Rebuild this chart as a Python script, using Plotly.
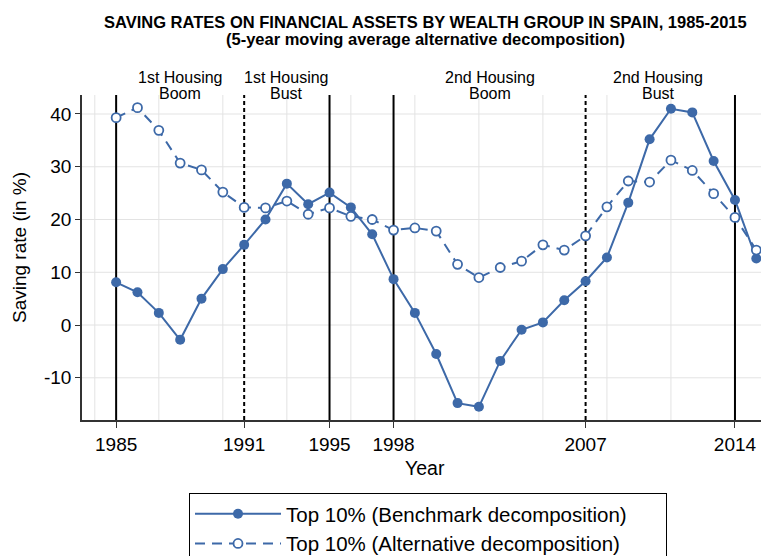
import plotly.graph_objects as go

years = list(range(1985, 2016))
benchmark = [8.1, 6.2, 2.3, -2.8, 5.0, 10.6, 15.2, 20.0, 26.8, 22.9, 25.1, 22.3, 17.2,
             8.7, 2.3, -5.5, -14.8, -15.5, -6.8, -0.9, 0.5, 4.7, 8.3, 12.8, 23.2,
             35.2, 41.0, 40.3, 31.1, 23.7, 12.6]
alternative = [39.3, 41.2, 36.9, 30.7, 29.4, 25.2, 22.3, 22.2, 23.5, 21.0, 22.2, 20.6, 20.0,
               18.0, 18.4, 17.8, 11.5, 9.0, 10.9, 12.1, 15.2, 14.2, 16.9, 22.4, 27.3,
               27.1, 31.25, 29.3, 24.9, 20.4, 14.2]
x_ticks = [1985, 1991, 1995, 1998, 2007, 2014]
y_ticks = [-10, 0, 10, 20, 30, 40]
y_ticktext = ["-10", "0", "10", "20", "30", "40"]
solid_lines = [1985, 1995, 1998, 2014]
dashed_lines = [1991, 2007]
periods = [(1988.0, "1st Housing", "Boom"), (1993.0, "1st Housing", "Bust"),
           (2002.5, "2nd Housing", "Boom"), (2010.4, "2nd Housing", "Bust")]
names = ["Top 10% (Benchmark decomposition)", "Top 10% (Alternative decomposition)"]

BLUE = "#3d69a8"
GRID = "#e3e3e3"
FONT = "Liberation Sans, Arial, Helvetica, sans-serif"
X_RANGE = [1983.4, 2015.22]
Y_RANGE = [-18.0, 43.6]
PAD = "\u00a0" * 6  # trailing space inside the legend box

fig = go.Figure()
fig.add_trace(go.Scatter(
    x=years, y=benchmark, mode="lines+markers", name=names[0] + PAD, legendgroup="a",
    line=dict(color=BLUE, width=2),
    marker=dict(color=BLUE, size=10, line=dict(width=0)),
))
fig.add_trace(go.Scatter(
    x=years, y=alternative, mode="lines+markers", name=names[1] + PAD, legendgroup="b",
    line=dict(color=BLUE, width=2, dash="10px,7px"),
    marker=dict(color="white", size=9, line=dict(color=BLUE, width=1.8)),
))

# grid lines (drawn as shapes so the black period lines sit on top of them)
for gx in range(1984, 2016, 3):
    fig.add_shape(type="line", xref="x", yref="paper", x0=gx, x1=gx, y0=0, y1=1,
                  line=dict(color=GRID, width=1), layer="below")
for gy in y_ticks:
    fig.add_shape(type="line", xref="paper", yref="y", x0=0, x1=1, y0=gy, y1=gy,
                  line=dict(color=GRID, width=1), layer="below")
for yr in solid_lines:
    fig.add_shape(type="line", xref="x", yref="paper", x0=yr, x1=yr, y0=0, y1=1,
                  line=dict(color="black", width=2), layer="below")
for yr in dashed_lines:
    fig.add_shape(type="line", xref="x", yref="paper", x0=yr, x1=yr, y0=0, y1=1,
                  line=dict(color="black", width=2, dash="4px,3px"), layer="below")

L, T, B = 82, 95, 420
W, H = 761, 556
PW = W - L
PH = B - T


def py(px):
    return (B - px) / PH


def pxr(px):
    return (px - L) / PW


ann = []
for xc, l1, l2 in periods:
    ann.append(dict(x=xc, xref="x", y=py(77), yref="paper", text=l1, showarrow=False,
                    font=dict(size=16, color="black", family=FONT), yanchor="middle"))
    ann.append(dict(x=xc, xref="x", y=py(93.5), yref="paper", text=l2, showarrow=False,
                    font=dict(size=16, color="black", family=FONT), yanchor="middle"))

ann.append(dict(x=pxr(425), xref="paper", y=py(22), yref="paper",
                text="<b>SAVING RATES ON FINANCIAL ASSETS BY WEALTH GROUP IN SPAIN, 1985-2015</b>",
                showarrow=False, font=dict(size=16.5, color="black", family=FONT), yanchor="middle"))
ann.append(dict(x=pxr(425), xref="paper", y=py(39), yref="paper",
                text="<b>(5-year moving average alternative decomposition)</b>",
                showarrow=False, font=dict(size=16.5, color="black", family=FONT), yanchor="middle"))
ann.append(dict(x=pxr(425), xref="paper", y=py(468), yref="paper", text="Year",
                showarrow=False, font=dict(size=19.5, color="black", family=FONT), yanchor="middle"))
ann.append(dict(x=pxr(20), xref="paper", y=py(248), yref="paper", text="Saving rate (in %)",
                textangle=-90, showarrow=False, font=dict(size=19, color="black", family=FONT),
                xanchor="center", yanchor="middle"))

fig.update_layout(
    width=W, height=H,
    margin=dict(l=L, r=0, t=T, b=H - B, autoexpand=False),
    plot_bgcolor="white", paper_bgcolor="white",
    font=dict(family=FONT, color="black"),
    annotations=ann,
    showlegend=True,
    legend=dict(x=pxr(189), xanchor="left", y=py(493), yanchor="top",
                bordercolor="black", borderwidth=1, font=dict(size=20.5, family=FONT),
                itemwidth=86, tracegroupgap=0, traceorder="grouped", bgcolor="white"),
)
fig.update_xaxes(
    range=X_RANGE, tickvals=x_ticks, showgrid=False, zeroline=False,
    showline=True, linecolor="#333", linewidth=1.5, ticks="outside", ticklen=6,
    tickcolor="#333", tickfont=dict(size=19, family=FONT, color="black"),
)
fig.update_yaxes(
    range=Y_RANGE, tickvals=y_ticks, ticktext=y_ticktext, showgrid=False,
    zeroline=False, showline=True, linecolor="#333", linewidth=1.5, ticks="outside",
    ticklen=5, tickcolor="#333", tickfont=dict(size=19, family=FONT, color="black"),
)

fig.write_html("out.html", config={"displayModeBar": False},
               post_script="document.body.style.margin='0';document.body.style.overflow='hidden';")
